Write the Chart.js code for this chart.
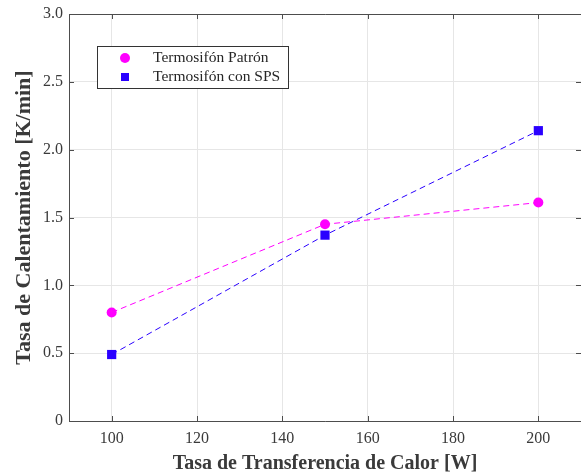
<!DOCTYPE html>
<html>
<head>
<meta charset="utf-8">
<script src="https://cdn.jsdelivr.net/npm/chart.js@4/dist/chart.umd.min.js"></script>
<style>
html,body{margin:0;padding:0;background:#fff;}
#wrap{width:581px;height:476px;position:relative;}
</style>
</head>
<body>
<div id="wrap"><canvas id="c" width="581" height="476"></canvas></div>
<script>
const xValues = [100, 150, 200];
const patronValues = [0.80, 1.45, 1.61];
const spsValues = [0.49, 1.37, 2.14];
const seriesNames = ['Termosifón Patrón', 'Termosifón con SPS'];
const xTickValues = [100, 120, 140, 160, 180, 200];
const yTickValues = [0, 0.5, 1.0, 1.5, 2.0, 2.5, 3.0];
const yTickLabels = ['0', '0.5', '1.0', '1.5', '2.0', '2.5', '3.0'];
const xTitle = 'Tasa de Transferencia de Calor [W]';
const yTitle = 'Tasa de Calentamiento [K/min]';

const FONT = "'Liberation Serif', 'Times New Roman', serif";
const MAGENTA = '#ff00ff';
const BLUE = '#2a00ff';
const TEXT = '#3a3a3a';

const framePlugin = {
  id: 'frame',
  afterDatasetsDraw(chart) {
    const ctx = chart.ctx;
    const a = chart.chartArea;
    const xs = chart.scales.x, ys = chart.scales.y;
    ctx.save();
    ctx.strokeStyle = '#4d4d4d';
    ctx.lineWidth = 1;
    ctx.beginPath();
    ctx.moveTo(a.left + 0.5, a.bottom + 0.5);
    ctx.lineTo(a.left + 0.5, a.top + 0.5);
    ctx.lineTo(a.right, a.top + 0.5);
    ctx.moveTo(a.left + 0.5, a.bottom + 0.5);
    ctx.lineTo(a.right, a.bottom + 0.5);
    ctx.stroke();
    ctx.beginPath();
    const tl = 5;
    xTickValues.forEach(v => {
      const px = Math.round(xs.getPixelForValue(v)) + 0.5;
      ctx.moveTo(px, a.bottom); ctx.lineTo(px, a.bottom - tl);
      ctx.moveTo(px, a.top); ctx.lineTo(px, a.top + tl);
    });
    yTickValues.forEach(v => {
      const py = Math.round(ys.getPixelForValue(v)) + 0.5;
      ctx.moveTo(a.left, py); ctx.lineTo(a.left + tl, py);
      ctx.moveTo(a.right, py); ctx.lineTo(a.right - tl, py);
    });
    ctx.stroke();
    ctx.restore();
  },
  afterDraw(chart) {
    const ctx = chart.ctx;
    ctx.save();
    const bx = 97.5, by = 46.5, bw = 191, bh = 42;
    ctx.fillStyle = '#fff';
    ctx.fillRect(bx, by, bw, bh);
    ctx.strokeStyle = '#333';
    ctx.lineWidth = 1;
    ctx.strokeRect(bx, by, bw, bh);
    ctx.fillStyle = MAGENTA;
    ctx.beginPath();
    ctx.arc(125, 58, 5, 0, Math.PI * 2);
    ctx.fill();
    ctx.fillStyle = BLUE;
    ctx.fillRect(121, 73, 8, 8);
    ctx.fillStyle = '#262626';
    ctx.font = '15.5px ' + FONT;
    ctx.textBaseline = 'middle';
    ctx.textAlign = 'left';
    ctx.fillText(seriesNames[0], 153, 58);
    ctx.fillText(seriesNames[1], 153, 77);
    ctx.restore();
  }
};

new Chart(document.getElementById('c'), {
  type: 'scatter',
  data: {
    datasets: [
      {
        label: seriesNames[0],
        data: xValues.map((x, i) => ({x: x, y: patronValues[i]})),
        showLine: true,
        borderColor: MAGENTA,
        backgroundColor: MAGENTA,
        borderWidth: 1,
        borderDash: [6, 4],
        pointStyle: 'circle',
        pointRadius: 5,
        pointBorderWidth: 0,
        pointHoverRadius: 5
      },
      {
        label: seriesNames[1],
        data: xValues.map((x, i) => ({x: x, y: spsValues[i]})),
        showLine: true,
        borderColor: BLUE,
        backgroundColor: BLUE,
        borderWidth: 1,
        borderDash: [6, 4],
        pointStyle: 'rect',
        pointRadius: 6.5,
        pointBorderWidth: 0,
        pointHoverRadius: 6.5
      }
    ]
  },
  options: {
    responsive: false,
    animation: false,
    devicePixelRatio: 1,
    layout: { autoPadding: false, padding: { top: 14, right: 0, left: 0, bottom: 0 } },
    plugins: { legend: { display: false }, tooltip: { enabled: false } },
    scales: {
      x: {
        type: 'linear',
        min: 90, max: 210,
        afterBuildTicks(s) { s.ticks = xTickValues.map(v => ({value: v})); },
        afterFit(s) { s.height = 55; s.paddingLeft = 0; s.paddingRight = 0; },
        grid: { color: '#e6e6e6', drawTicks: false },
        border: { display: false },
        ticks: { color: TEXT, font: { family: FONT, size: 16 }, padding: 8, maxRotation: 0 },
        title: { display: true, text: xTitle, color: TEXT, font: { family: FONT, size: 20, weight: 'bold' }, padding: { top: 0, bottom: 0 } }
      },
      y: {
        type: 'linear',
        min: 0, max: 3,
        afterBuildTicks(s) { s.ticks = yTickValues.map(v => ({value: v})); },
        afterFit(s) { s.width = 69; s.paddingTop = 0; s.paddingBottom = 0; },
        grid: { color: '#e6e6e6', drawTicks: false },
        border: { display: false },
        ticks: {
          color: TEXT, font: { family: FONT, size: 16 }, padding: 6,
          callback: (v) => { const i = yTickValues.indexOf(v); return i >= 0 ? yTickLabels[i] : ''; }
        },
        title: { display: true, text: yTitle, color: TEXT, font: { family: FONT, size: 22, weight: 'bold' }, padding: { top: 11, bottom: 0 } }
      }
    }
  },
  plugins: [framePlugin]
});
</script>
</body>
</html>
